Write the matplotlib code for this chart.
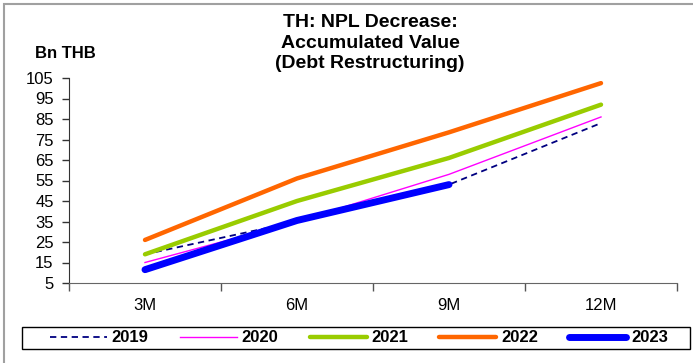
import matplotlib
matplotlib.use("Agg")
import matplotlib.pyplot as plt
from matplotlib.patches import Rectangle

categories = ["3M", "6M", "9M", "12M"]
s2019 = [19, 35, 53, 83]
s2020 = [15, 35, 58, 86]
s2021 = [19, 45, 66, 92]
s2022 = [26, 56, 78.5, 102.5]
s2023 = [11.5, 35.5, 53]
yticks = list(range(5, 106, 10))

plt.rcParams['font.family'] = ['Liberation Sans', 'DejaVu Sans']

W, H = 693, 363
fig = plt.figure(figsize=(W/100, H/100), dpi=100)
ax = fig.add_axes([69/W, 1-283/H, (677-69)/W, (283-78)/H])

x = [1, 2, 3, 4]
ax.plot(x, s2019, color="#000080", lw=1.3, ls=(0, (3.5, 2.5)), label="2019")
ax.plot(x, s2020, color="#FF00FF", lw=1.0, label="2020")
ax.plot(x, s2021, color="#99CC00", lw=3.2, label="2021", solid_capstyle="round")
ax.plot(x, s2022, color="#FF6600", lw=3.2, label="2022", solid_capstyle="round")
ax.plot(x[:len(s2023)], s2023, color="#0000FF", lw=5, label="2023", solid_capstyle="round")

ax.set_xlim(0.5, 4.5)
ax.set_ylim(5, 105)
ax.set_yticks(yticks)
ax.set_xticks(x)
ax.set_xticklabels(categories)
ax.set_xticks([0.5, 1.5, 2.5, 3.5, 4.5], minor=True)
ax.tick_params(axis='x', which='major', length=0, pad=11, labelsize=12)
ax.tick_params(axis='x', which='minor', length=6, width=1, color="#555555", direction='out')
ax.tick_params(axis='y', length=5, width=1, color="#333333", pad=6, labelsize=12)
for s in ["top", "right"]:
    ax.spines[s].set_visible(False)
ax.spines["left"].set_color("#333333")
ax.spines["bottom"].set_color("#666666")

fig.text(370/W, 1-43/H, "TH: NPL Decrease:\nAccumulated Value\n(Debt Restructuring)",
         ha="center", va="center", fontsize=14, fontweight="bold", linespacing=1.3)
fig.text(35/W, 1-53/H, "Bn THB", ha="left", va="center", fontsize=12, fontweight="bold")

leg = fig.legend(loc="center", bbox_to_anchor=(359/W, 1-338/H), ncol=5,
                 prop={'weight': 'bold', 'size': 12}, handlelength=3.42,
                 handletextpad=0.3, columnspacing=1.86, frameon=False,
                 borderpad=0.0, borderaxespad=0)

fig.patches.append(Rectangle((22/W, 1-349/H), (690-22)/W, 22/H, transform=fig.transFigure,
                             fill=False, edgecolor="black", lw=1.0))
fig.patches.append(Rectangle((4/W, -0.1), 1.2, 1 - 4/H + 0.1, transform=fig.transFigure,
                             fill=False, edgecolor="#A0A0A0", lw=1.5))

fig.savefig("out.png", dpi=100)
